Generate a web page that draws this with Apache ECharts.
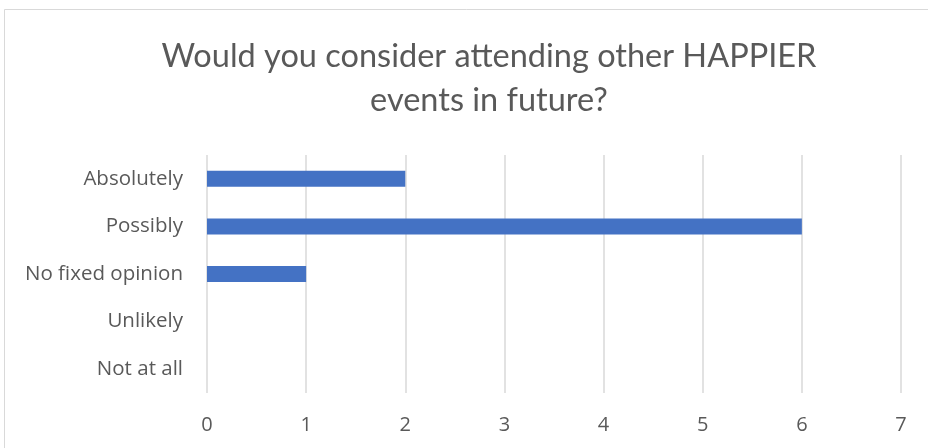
<!DOCTYPE html>
<html><head><meta charset="utf-8">
<script src="https://cdn.jsdelivr.net/npm/echarts@6/dist/echarts.min.js"></script>
<style>html,body{margin:0;padding:0;background:#fff}#c{width:928px;height:448px}</style>
</head><body><div id="c"></div>
<script>
const titleText = "Would you consider attending other HAPPIER\nevents in future?";
const categories = ["Absolutely", "Possibly", "No fixed opinion", "Unlikely", "Not at all"];
const values = [2, 6, 1, 0, 0];
const xTicks = [0, 1, 2, 3, 4, 5, 6, 7];

const chart = echarts.init(document.getElementById('c'));
chart.setOption({
  animation: false,
  backgroundColor: '#fff',
  graphic: [{type:'rect', shape:{x:4.5,y:9.5,width:1000,height:1000}, style:{fill:'none',stroke:'#D9D9D9',lineWidth:1}, silent:true, z:-1}],
  title: {
    text: titleText, left: 484, textAlign: 'center', top: 30,
    textStyle: {fontFamily: 'Lato', fontSize: 32.5, fontWeight: 'normal', color: '#595959', lineHeight: 44}
  },
  grid: {left: 207, right: 27, top: 155, bottom: 55},
  xAxis: {
    type: 'value', min: xTicks[0], max: xTicks[xTicks.length-1], interval: 1,
    axisLine: {show:false}, axisTick: {show:false},
    splitLine: {lineStyle: {color: '#D9D9D9', width: 1.5}},
    axisLabel: {fontFamily:'Open Sans', fontSize: 20, color: '#595959', margin: 22}
  },
  yAxis: {
    type: 'category', data: categories, inverse: true,
    axisLine: {show:false}, axisTick: {show:false},
    axisLabel: {fontFamily:'Open Sans', fontSize: 20.5, color: '#595959', margin: 24}
  },
  series: [{type:'bar', data: values, barWidth: 16, itemStyle: {color: '#4472C4'}}]
});
</script></body></html>
